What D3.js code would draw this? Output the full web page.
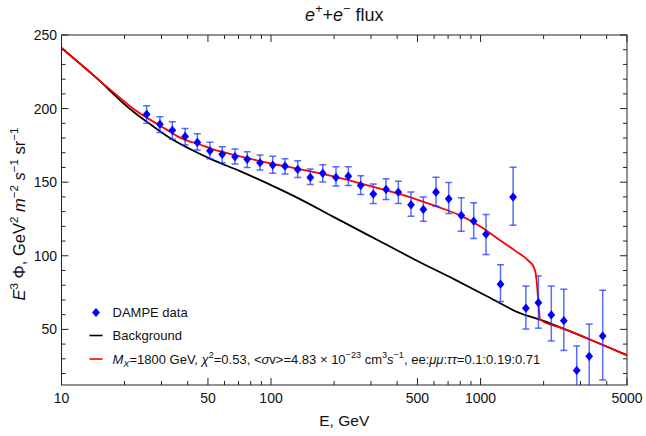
<!DOCTYPE html>
<html><head><meta charset="utf-8">
<script src="https://cdn.jsdelivr.net/npm/d3@7"></script>
<style>body{margin:0;background:#fff} svg{display:block}</style>
</head><body>
<svg id="c" width="646" height="436"></svg>
<script>
// ---------- data ----------
const energies  = [25.5,29.5,33.8,38.9,44.5,51.1,58.5,67.3,77.0,88.6,101.9,116.6,134.1,154,176.5,204.2,233.8,267.9,307.7,353.9,405.1,465.6,533.3,612.9,704.7,809.4,927.5,1062,1245,1430,1646,1889,2176,2497,2877,3301,3828];
const fluxValues= [196.1,189.3,185.2,181.1,177.0,171.3,168.9,167.3,165.5,163.2,161.6,160.9,158.7,153.2,156.0,153.2,154.1,147.8,141.9,145.1,143.2,134.6,131.5,143.2,138.7,127.4,123.5,114.7,80.7,139.9,64.4,68.1,59.8,55.9,22.1,31.7,45.5];
const errUpper  = [202.0,194.4,191.0,186.5,182.9,177.2,174.0,172.5,170.7,168.4,167.7,166.0,164.5,158.9,161.8,160.5,160.5,154.3,148.7,152.3,150.7,143.4,140.0,153.4,149.8,139.4,136.0,128.1,93.9,160.2,79.4,86.3,79.4,77.3,38.7,53.6,76.6];
const errLower  = [190.0,183.8,179.1,175.2,171.8,165.9,163.2,162.3,160.0,158.2,156.0,155.5,153.2,148.5,150.2,147.4,147.8,141.7,135.5,138.3,135.5,126.9,123.5,133.7,128.8,116.7,111.8,100.8,68.9,120.8,50.2,50.8,42.1,35.7,5.0,10.0,15.6];

const bgEnergies = [10,12.95,15.27,17.42,19.45,22.43,26.45,32.95,41.05,51.1,71.1,98.9,137.5,197.6,320.4,514,747,1085,1569,1924,2451,3301,4127,5000];
const bgValues   = [241.2,227.6,218.7,210.9,204.4,197.0,189.5,180.0,172.5,166.0,157.5,148.3,138.5,126.6,110.9,95.6,84.1,72.2,60.6,56.6,50.8,43.3,37.5,32.4];

const sigEnergies = [10,12.95,15.27,17.42,19.45,22.43,26.45,31.19,36.8,41.05,44.33,53.0,63.7,91.9,132.6,198.3,286.1,412.7,514,640.5,803.3,994,1238,1461,1690,1789,1835,1860,1880,1901,1924,2451,3301,4127,5000];
const sigValues   = [241.2,227.6,218.7,211.9,206.1,199.0,192.5,186.4,180.3,177.6,176.2,172.3,169.3,163.8,159.2,153.9,148.0,141.9,137.5,132.7,127.3,120.1,110.6,103.5,96.7,92.6,87.5,80.0,71.2,63.0,56.6,50.8,43.3,37.5,32.4];

const xMajorTicks = [10,50,100,500,1000,5000];
const xMinorTicks = [20,30,40,60,70,80,90,200,300,400,600,700,800,900,2000,3000,4000];
const yMajorTicks = [50,100,150,200,250];
const yMinorTicks = [20,30,40,60,70,80,90,110,120,130,140,160,170,180,190,210,220,230,240];

// ---------- layout ----------
const L = 61.5, R = 627, T = 35, B = 385;
const FONT = "'Liberation Sans', Arial, Helvetica, sans-serif";
const svg = d3.select('#c').attr('font-family', FONT);
svg.append('rect').attr('width',646).attr('height',436).attr('fill','#fff');

const x = d3.scaleLog().domain([10,5000]).range([L,R]);
const y = d3.scaleLinear().domain([12.2,250]).range([B,T]);

svg.append('defs').append('clipPath').attr('id','clip')
  .append('rect').attr('x',L).attr('y',T).attr('width',R-L).attr('height',B-T);

// rich text helper
function rich(sel, parts, fs){
  let cur = 0;
  parts.forEach(p=>{
    const want = p.sup ? -0.42*fs : (p.sub ? 0.25*fs : 0);
    const ts = sel.append('tspan').text(p.t);
    if (want !== cur) ts.attr('dy', want-cur);
    cur = want;
    if (p.i) ts.attr('font-style','italic');
    if (p.sup || p.sub) ts.attr('font-size', fs*0.7);
  });
}

// ---------- frame & ticks ----------
const frame = svg.append('g').attr('stroke','#222').attr('stroke-width',1);
frame.append('rect').attr('x',L).attr('y',T).attr('width',R-L).attr('height',B-T).attr('fill','none');

function xt(v,len){
  frame.append('line').attr('x1',x(v)).attr('x2',x(v)).attr('y1',B).attr('y2',B-len);
  frame.append('line').attr('x1',x(v)).attr('x2',x(v)).attr('y1',T).attr('y2',T+len);
}
function yt(v,len){
  frame.append('line').attr('y1',y(v)).attr('y2',y(v)).attr('x1',L).attr('x2',L+len);
  frame.append('line').attr('y1',y(v)).attr('y2',y(v)).attr('x1',R).attr('x2',R-len);
}
xMajorTicks.forEach(v=>xt(v,7));
xMinorTicks.forEach(v=>xt(v,4));
yMajorTicks.forEach(v=>yt(v,7));
yMinorTicks.forEach(v=>yt(v,4));

svg.append('g').selectAll('text').data(xMajorTicks).join('text')
  .attr('x',d=>x(d)).attr('y',403).attr('text-anchor','middle')
  .attr('font-size',14).attr('fill','#111').text(d=>d);
svg.append('g').selectAll('text').data(yMajorTicks).join('text')
  .attr('x',57).attr('y',d=>y(d)+5).attr('text-anchor','end')
  .attr('font-size',14).attr('fill','#111').text(d=>d);

// ---------- titles ----------
rich(svg.append('text').attr('x',(L+R)/2).attr('y',21).attr('text-anchor','middle').attr('font-size',18).attr('fill','#111'),
  [{t:'e',i:1},{t:'+',sup:1},{t:'+'},{t:'e',i:1},{t:'\u2212',sup:1},{t:' flux'}],18);
svg.append('text').attr('x',(L+R)/2).attr('y',426).attr('text-anchor','middle')
  .attr('font-size',15.5).attr('fill','#111').text('E, GeV');
rich(svg.append('text').attr('transform','translate(25,214) rotate(-90)').attr('text-anchor','middle').attr('font-size',16.5).attr('fill','#111'),
  [{t:'E',i:1},{t:'3',sup:1},{t:' \u03A6, GeV'},{t:'2',sup:1},{t:' '},{t:'m',i:1},{t:'\u22122',sup:1},{t:' '},{t:'s',i:1},{t:'\u22121',sup:1},{t:' sr'},{t:'\u22121',sup:1}],16.5);

// ---------- curves ----------
const line = d3.line().x(d=>x(d[0])).y(d=>y(d[1])).curve(d3.curveMonotoneX);
const plot = svg.append('g').attr('clip-path','url(#clip)');
plot.append('path').attr('d',line(d3.zip(bgEnergies,bgValues)))
  .attr('fill','none').attr('stroke','#000').attr('stroke-width',1.8);
plot.append('path').attr('d',line(d3.zip(sigEnergies,sigValues)))
  .attr('fill','none').attr('stroke','#ff0000').attr('stroke-width',1.8);

// ---------- data points ----------
const pts = energies.map((e,i)=>({e, v:fluxValues[i], hi:errUpper[i], lo:errLower[i]}));
const eb = plot.append('g').attr('stroke','#1a35ff').attr('stroke-opacity',0.72).attr('stroke-width',1.5);
pts.forEach(p=>{
  const cx = x(p.e);
  eb.append('line').attr('x1',cx).attr('x2',cx).attr('y1',y(p.hi)).attr('y2',y(p.lo));
  eb.append('line').attr('x1',cx-3.5).attr('x2',cx+3.5).attr('y1',y(p.hi)).attr('y2',y(p.hi));
  eb.append('line').attr('x1',cx-3.5).attr('x2',cx+3.5).attr('y1',y(p.lo)).attr('y2',y(p.lo));
});
const diamond = (cx,cy)=>`M${cx},${cy-4.6}L${cx+3.9},${cy}L${cx},${cy+4.6}L${cx-3.9},${cy}Z`;
plot.append('g').selectAll('path').data(pts).join('path')
  .attr('d',d=>diamond(x(d.e),y(d.v))).attr('fill','#0000ff');

// ---------- legend ----------
const lg = svg.append('g').attr('font-size',13).attr('fill','#111');
lg.append('path').attr('d',diamond(96,312.5)).attr('fill','#0000ff');
lg.append('text').attr('x',112.5).attr('y',317).text('DAMPE data');
lg.append('line').attr('x1',89.5).attr('x2',102.5).attr('y1',335.5).attr('y2',335.5).attr('stroke','#000').attr('stroke-width',1.6);
lg.append('text').attr('x',112.5).attr('y',340).text('Background');
lg.append('line').attr('x1',89.5).attr('x2',102.5).attr('y1',359).attr('y2',359).attr('stroke','#ff0000').attr('stroke-width',1.6);
rich(lg.append('text').attr('x',112.5).attr('y',363.5),
  [{t:'M',i:1},{t:'X',i:1,sub:1},{t:'=1800 GeV, '},{t:'\u03C7',i:1},{t:'2',sup:1},{t:'=0.53, <'},{t:'\u03C3',i:1},{t:'v>=4.83 \u00D7 10'},{t:'\u221223',sup:1},
   {t:' cm'},{t:'3',sup:1},{t:'s',i:1},{t:'\u22121',sup:1},{t:', ee:'},{t:'\u03BC\u03BC',i:1},{t:':'},{t:'\u03C4\u03C4',i:1},{t:'=0.1:0.19:0.71'}],13);
</script>
</body></html>
